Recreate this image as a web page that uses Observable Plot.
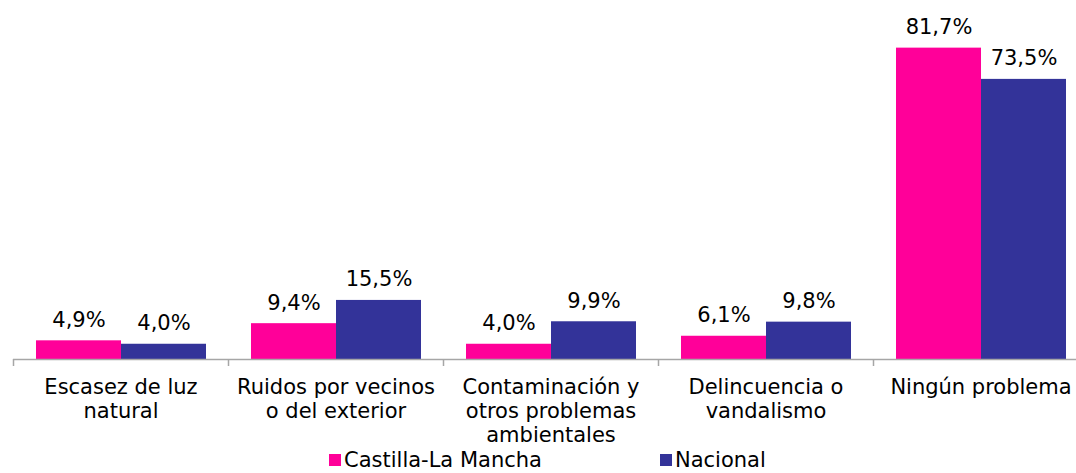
<!DOCTYPE html>
<html>
<head>
<meta charset="utf-8">
<script src="https://cdn.jsdelivr.net/npm/d3@7"></script>
<script src="https://cdn.jsdelivr.net/npm/@observablehq/plot@0.6"></script>
<style>
  html, body { margin: 0; padding: 0; background: #fff; overflow: hidden; width: 1076px; height: 473px; }
  #wrap { position: relative; width: 1076px; height: 473px; overflow: hidden; font-family: "DejaVu Sans", Verdana, sans-serif; }
  #chart { position: absolute; left: 0; top: 0; width: 1090px; }
  #chart svg { max-width: none !important; }
  #legend { position: absolute; top: 448px; left: 329px; display: flex; align-items: center; font-size: 21px; line-height: 24px; color: #000; white-space: nowrap; }
  .item { display: flex; align-items: center; }
  .sw { width: 12px; height: 12px; margin-right: 3px; }
</style>
</head>
<body>
<div id="wrap">
  <div id="chart"></div>
  <div id="legend"></div>
</div>
<script>
const categories = [
  "Escasez de luz\nnatural",
  "Ruidos por vecinos\no del exterior",
  "Contaminación y\notros problemas\nambientales",
  "Delincuencia o\nvandalismo",
  "Ningún problema"
];
const series = ["Castilla-La Mancha", "Nacional"];
const colors = ["#FF0099", "#333399"];
const clm = [4.9, 9.4, 4.0, 6.1, 81.7];
const nacional = [4.0, 15.5, 9.9, 9.8, 73.5];

const data = categories.flatMap((c, i) => [
  {cat: c, series: series[0], value: clm[i]},
  {cat: c, series: series[1], value: nacional[i]}
]);
const fmt = v => v.toFixed(1).replace(".", ",") + "%";

const chart = Plot.plot({
  width: 1090,
  height: 450,
  marginLeft: 13,
  marginRight: 2,
  marginTop: 16,
  marginBottom: 91,
  style: {fontFamily: "'DejaVu Sans', Verdana, sans-serif", fontSize: "21px", color: "#000", background: "transparent", maxWidth: "none"},
  fx: {domain: categories, padding: 0, label: null},
  x: {domain: series, paddingInner: 0, paddingOuter: 0.2647, axis: null},
  y: {domain: [0, 90], axis: null},
  color: {domain: series, range: colors},
  marks: [
    Plot.barY(data, {fx: "cat", x: "series", y: "value", fill: "series"}),
    Plot.text(data, {fx: "cat", x: "series", y: "value", text: d => fmt(d.value), lineAnchor: "bottom", dy: -14, fontSize: 21, fill: "#000"}),
    Plot.ruleY([0], {stroke: "#a6a6a6", strokeWidth: 1.5}),
    Plot.axisFx({anchor: "bottom", tickSize: 0, tickPadding: 17, lineHeight: 1.15, fontSize: 21, label: null, fill: "#000"})
  ]
});
chart.style.maxWidth = "none";

// boundary tick marks at the left edge of each category band
const fxs = chart.scale("fx");
const ys = chart.scale("y");
const y0 = ys.apply(0);
const g = d3.select(chart).append("g").attr("stroke", "#a6a6a6").attr("stroke-width", 1.5);
categories.forEach(c => {
  const x = Math.round(fxs.apply(c)) + 0.5;
  g.append("line").attr("x1", x).attr("x2", x).attr("y1", y0).attr("y2", y0 + 7);
});
document.getElementById("chart").appendChild(chart);

const legend = d3.select("#legend");
series.forEach((s, i) => {
  const it = legend.append("div").attr("class", "item").style("margin-right", i === 0 ? "118px" : "0");
  it.append("div").attr("class", "sw").style("background", colors[i]);
  it.append("span").text(s);
});
</script>
</body>
</html>
